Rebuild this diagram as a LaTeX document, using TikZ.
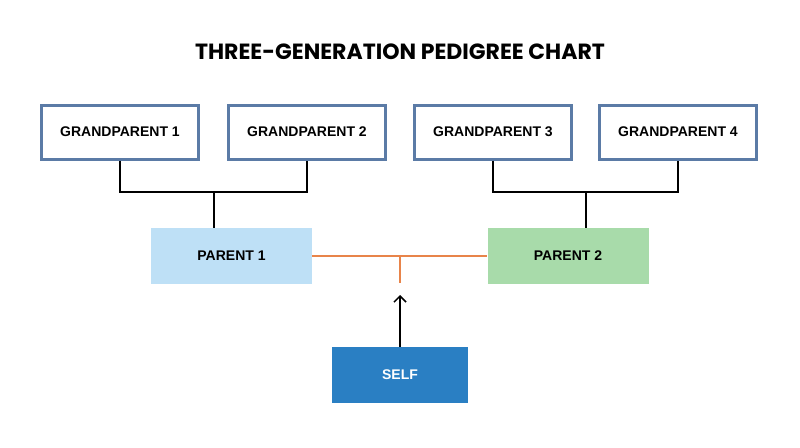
\documentclass[tikz,border=0pt]{standalone}
\usepackage{fontspec}
\setmainfont{Liberation Sans}
\newfontfamily\titlefont{Poppins}
\usetikzlibrary{arrows.meta}
\definecolor{gpb}{HTML}{5B7BA6}
\definecolor{p1}{HTML}{BEE0F6}
\definecolor{p2}{HTML}{A8DBAA}
\definecolor{selfc}{HTML}{2A7FC3}
\definecolor{orl}{HTML}{E8844A}
\begin{document}
\begin{tikzpicture}[x=1pt,y=-1pt,
 gp/.style={draw=gpb,line width=3pt,fill=white,minimum width=157pt,minimum height=54pt,inner sep=0pt,font=\bfseries\fontsize{14}{16}\selectfont},
 par/.style={minimum width=161pt,minimum height=56pt,inner sep=0pt,font=\bfseries\fontsize{14}{16}\selectfont},
 con/.style={line width=1.3pt,black}]
\useasboundingbox[fill=white] (0,0) rectangle (800,447);
\node[font=\titlefont\bfseries\fontsize{22}{26}\selectfont] (title) at (400,52) {THREE-GENERATION PEDIGREE CHART};
\node[gp] (g1) at (120,132) {GRANDPARENT 1};
\node[gp] (g2) at (307,132) {GRANDPARENT 2};
\node[gp] (g3) at (493,132) {GRANDPARENT 3};
\node[gp] (g4) at (678,132) {GRANDPARENT 4};
\node[par,fill=p1] (pa1) at (231.5,256) {PARENT 1};
\node[par,fill=p2] (pa2) at (568,256) {PARENT 2};
\node[par,fill=selfc,text=white,minimum width=136pt] (self) at (400,375) {SELF};
\coordinate (j1) at (214,192);
\coordinate (j2) at (586,192);
\draw[con] (g1.south) |- (j1) -| (g2.south);
\draw[con] (j1) -- (pa1.north -| j1);
\draw[con] (g3.south) |- (j2) -| (g4.south);
\draw[con] (j2) -- (pa2.north -| j2);
\coordinate (m) at (400,256);
\coordinate (md) at (400,283);
\coordinate (tip) at (400,295);
\draw[orl,line width=1.5pt] (pa1.east) -- (pa2.west);
\draw[orl,line width=1.5pt] (m) -- (md);
\draw[con,-{Straight Barb[length=6pt,width=12pt,line width=1.5pt]}] (self.north) -- (tip);
\end{tikzpicture}
\end{document}
